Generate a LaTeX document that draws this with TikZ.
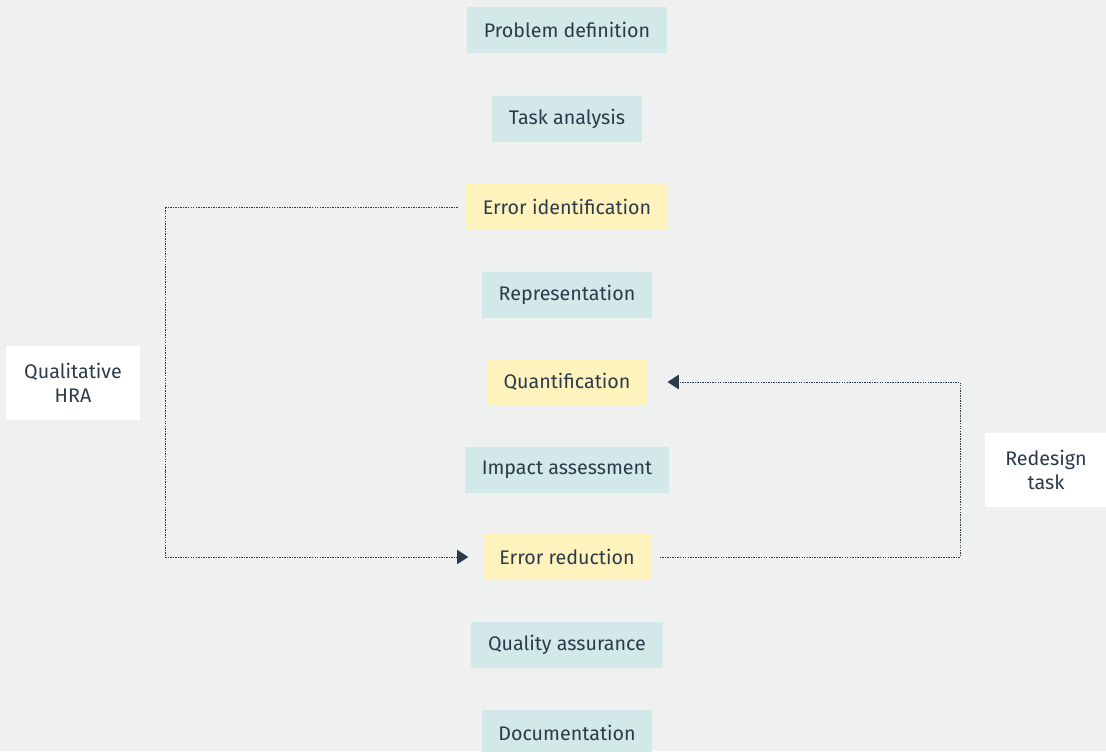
\documentclass[tikz,border=0pt]{standalone}
\usepackage{fontspec}
\setmainfont{Fira Sans}
\usetikzlibrary{arrows.meta}
\definecolor{bgcol}{HTML}{EFF1F0}
\definecolor{stepcol}{HTML}{D3E8E8}
\definecolor{errcol}{HTML}{FFF3BD}
\definecolor{inkcol}{HTML}{2D3A4A}
\tikzset{
    stage/.style={fill=stepcol, text=inkcol, minimum height=1.17cm, inner xsep=0.42cm, font=\fontsize{14}{16}\selectfont},
    errstage/.style={stage, fill=errcol},
    sidenote/.style={fill=white, text=inkcol, align=center, minimum height=1.85cm, inner xsep=0.4cm, font=\fontsize{14}{17}\selectfont},
    link/.style={inkcol, line width=0.7pt, dash pattern=on 1pt off 0.8pt, -{Triangle[length=0.28cm, width=0.36cm]}}
}
\begin{document}
\begin{tikzpicture}[x=0.025cm, y=-0.025cm]
    % Background
    \fill[bgcol] (0, 0) rectangle (1106, 751);
    \useasboundingbox (0, 0) rectangle (1106, 751);

    % Stages
    \node[stage] (pd) at (567, 30) {Problem definition};
    \node[stage] (ta) at (567, 119) {Task analysis};
    \node[errstage] (ei) at (567, 207) {Error identification};
    \node[stage] (rp) at (567, 295) {Representation};
    \node[errstage] (qf) at (567, 382) {Quantification};
    \node[stage] (ia) at (567, 470) {Impact assessment};
    \node[errstage] (er) at (567, 557) {Error reduction};
    \node[stage] (qa) at (567, 645) {Quality assurance};
    \node[stage] (dc) at (567, 733) {Documentation};

    % Side notes
    \node[sidenote, minimum width=3.33cm] (hra) at (73, 383) {Qualitative\\HRA};
    \node[sidenote, minimum width=3.05cm] (rd) at (1046, 470) {Redesign\\task};

    % Loops
    \coordinate (loopl) at (165, 470);
    \coordinate (loopr) at (960, 470);
    \draw[link, shorten <=0.2cm, shorten >=0.35cm] (ei.west) -| (loopl) |- (er.west);
    \draw[link, shorten <=0.2cm, shorten >=0.5cm] (er.east) -| (loopr) |- (qf.east);
\end{tikzpicture}
\end{document}
